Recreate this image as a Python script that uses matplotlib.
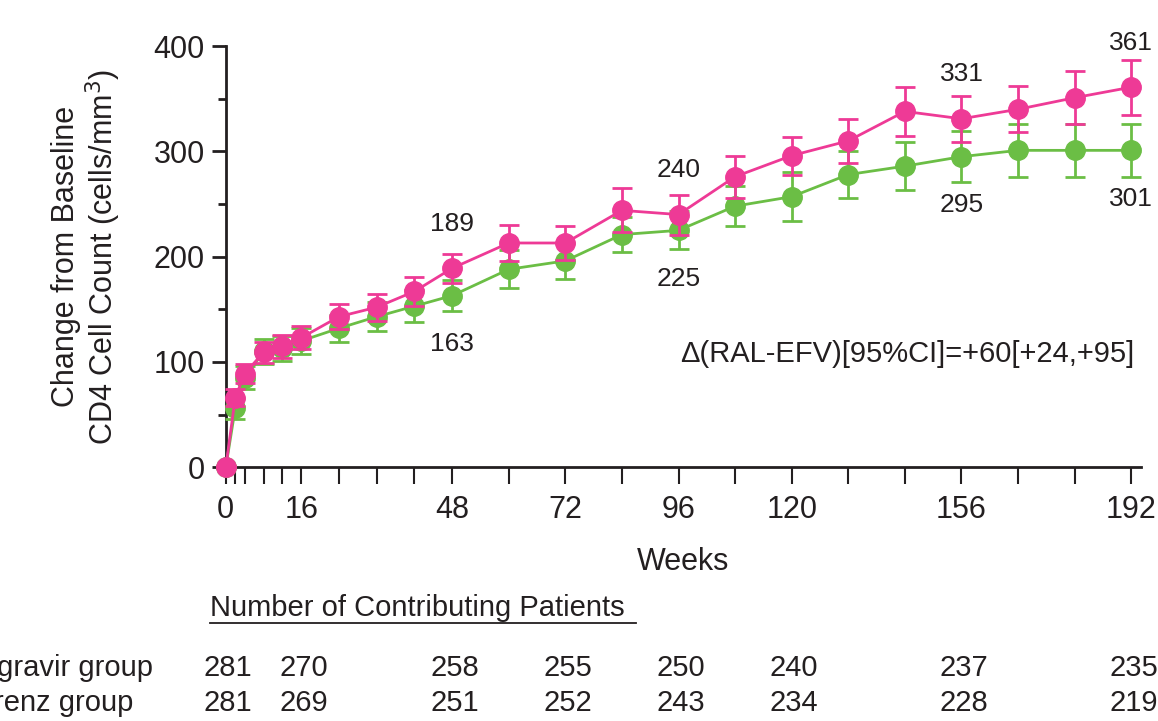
import numpy as np
import matplotlib.pyplot as plt
from matplotlib.ticker import MultipleLocator
from matplotlib.transforms import blended_transform_factory

plt.rcParams['font.family'] = ['Liberation Sans', 'DejaVu Sans']

## data
weeks = [0, 2, 4, 8, 12, 16, 24, 32, 40, 48, 60, 72, 84, 96, 108, 120, 132, 144, 156, 168, 180, 192]
ral = [0, 66, 89, 109, 115, 123, 143, 152, 167, 189, 213, 213, 244, 240, 276, 296, 310, 338, 331, 340, 351, 361]
ral_err = [0, 8, 9, 10, 11, 11, 12, 13, 14, 14, 17, 16, 21, 19, 20, 18, 21, 23, 22, 22, 25, 26]
efv = [0, 56, 85, 110, 113, 120, 132, 143, 153, 163, 188, 196, 221, 225, 248, 257, 278, 286, 295, 301, 301, 301]
efv_err = [0, 10, 11, 12, 12, 12, 13, 14, 15, 15, 18, 17, 17, 18, 19, 23, 22, 23, 24, 25, 25, 25]

xticks = [0, 2, 4, 8, 12, 16, 24, 32, 40, 48, 60, 72, 84, 96, 108, 120, 132, 144, 156, 168, 180, 192]
xtick_labels = [0, 16, 48, 72, 96, 120, 156, 192]

count_weeks = [0, 16, 48, 72, 96, 120, 156, 192]
ral_n = [281, 270, 258, 255, 250, 240, 237, 235]
efv_n = [281, 269, 251, 252, 243, 234, 228, 219]

# labelled points (week index)
label_idx = [9, 13, 18, 21]

pink = '#EE3A96'
green = '#6BBE45'
txt = '#231F20'

fig = plt.figure(figsize=(11.58, 7.21), dpi=100)
ax = fig.add_axes([0.195, 0.352, 0.79, 0.584])

ax.errorbar(weeks, efv, yerr=efv_err, color=green, marker='o', markersize=14, lw=2,
            elinewidth=2, capsize=7, capthick=2, clip_on=False, zorder=3)
ax.errorbar(weeks, ral, yerr=ral_err, color=pink, marker='o', markersize=14, lw=2,
            elinewidth=2, capsize=7, capthick=2, clip_on=False, zorder=4)

for i in label_idx:
    ax.annotate(str(ral[i]), (weeks[i], ral[i]), xytext=(0, 32), textcoords='offset points',
                ha='center', va='center', fontsize=19, color=txt)
    ax.annotate(str(efv[i]), (weeks[i], efv[i]), xytext=(0, -35), textcoords='offset points',
                ha='center', va='center', fontsize=19, color=txt)

ax.text(0.993, 0.27, '\u0394(RAL-EFV)[95%CI]=+60[+24,+95]', transform=ax.transAxes,
        ha='right', va='center', fontsize=21, color=txt)

ax.set_xlim(0, 194)
ax.set_ylim(0, 400)
ax.set_xticks(xticks)
ax.set_xticklabels([str(w) if w in xtick_labels else '' for w in xticks])
ax.yaxis.set_major_locator(MultipleLocator(100))
ax.yaxis.set_minor_locator(MultipleLocator(50))

for s in ['top', 'right']:
    ax.spines[s].set_visible(False)
for s in ['left', 'bottom']:
    ax.spines[s].set_linewidth(2)
    ax.spines[s].set_color(txt)

ax.tick_params(axis='x', length=12, width=1.5, color=txt, labelsize=22, labelcolor=txt, pad=8)
ax.tick_params(axis='y', which='major', length=10, width=2, color=txt, labelsize=22, labelcolor=txt, pad=5)
ax.tick_params(axis='y', which='minor', length=6, width=2, color=txt)

ax.set_xlabel('Weeks', fontsize=22, color=txt, labelpad=16)
ax.set_ylabel('Change from Baseline\nCD4 Cell Count (cells/mm$^3$)', fontsize=22, color=txt,
              labelpad=22, linespacing=1.1)

## patient counts table
head = fig.text(210 / 1158, 1 - 608 / 721, 'Number of Contributing Patients', fontsize=21,
                color=txt, va='center', ha='left')
fig.add_artist(plt.Line2D([210 / 1158, 636 / 1158], [1 - 623 / 721] * 2, color=txt, lw=1.3))

trans = blended_transform_factory(ax.transData, fig.transFigure)
row_y = [1 - 668 / 721, 1 - 703 / 721]
fig.text(-0.061, row_y[0], 'Raltegravir group', fontsize=21, color=txt, va='center', ha='left')
fig.text(-0.061, row_y[1], 'Efavirenz group', fontsize=21, color=txt, va='center', ha='left')
for w, a, b in zip(count_weeks, ral_n, efv_n):
    fig.text(w + 0.5, row_y[0], str(a), transform=trans, fontsize=21, color=txt, ha='center', va='center')
    fig.text(w + 0.5, row_y[1], str(b), transform=trans, fontsize=21, color=txt, ha='center', va='center')

plt.savefig('out.png', dpi=100)
